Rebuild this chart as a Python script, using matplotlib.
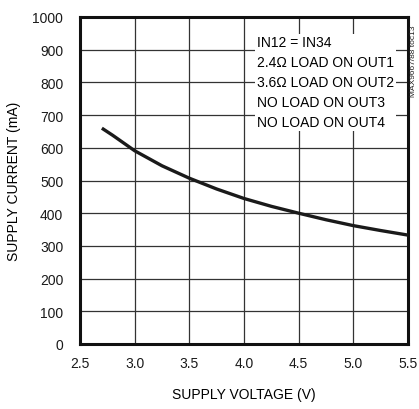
import matplotlib

matplotlib.use("Agg")
import matplotlib.pyplot as plt

# supply current vs supply voltage
VOLTAGE = [2.7, 2.8, 3.0, 3.25, 3.5, 3.75, 4.0, 4.25, 4.5, 4.75, 5.0, 5.25, 5.5]
CURRENT = [660, 638, 591, 545, 507, 474, 445, 421, 400, 380, 362, 347, 333]

X_TICKS = [2.5, 3.0, 3.5, 4.0, 4.5, 5.0, 5.5]
Y_TICKS = [0, 100, 200, 300, 400, 500, 600, 700, 800, 900, 1000]

NOTE_LINES = [
    "IN12 = IN34",
    "2.4\u03a9 LOAD ON OUT1",
    "3.6\u03a9 LOAD ON OUT2",
    "NO LOAD ON OUT3",
    "NO LOAD ON OUT4",
]

plt.rcParams.update(
    {
        "font.family": ["Liberation Sans Narrow", "Liberation Sans", "DejaVu Sans"],
        "font.size": 10,
    }
)

fig = plt.figure(figsize=(4.19, 4.10), dpi=100)
ax = fig.add_axes([80 / 419, 1 - 345 / 410, 328 / 419, 327 / 410])

ax.plot(VOLTAGE, CURRENT, color="#1a1a1a", linewidth=2.4, solid_capstyle="butt", zorder=3)

ax.set_xlim(2.5, 5.5)
ax.set_ylim(0, 1000)
ax.set_xticks(X_TICKS)
ax.set_xticklabels([f"{v:.1f}" for v in X_TICKS])
ax.set_yticks(Y_TICKS)
ax.tick_params(length=0, colors="#1a1a1a")
ax.tick_params(axis="y", pad=12)
ax.tick_params(axis="x", pad=9)
ax.grid(True, color="#333333", linewidth=0.9)
ax.set_axisbelow(True)
for spine in ax.spines.values():
    spine.set_linewidth(2.2)
    spine.set_color("#111111")

ax.set_xlabel("SUPPLY VOLTAGE (V)", labelpad=12)
ax.set_ylabel("SUPPLY CURRENT (mA)", labelpad=8)

ax.text(
    0.54,
    0.80,
    "\n".join(NOTE_LINES),
    transform=ax.transAxes,
    ha="left",
    va="center",
    linespacing=1.55,
    zorder=4,
    bbox={"boxstyle": "square,pad=0.12", "facecolor": "white", "edgecolor": "none"},
)

fig.text(0.986, 0.85, "MAX9667/88 toc13", rotation=90, ha="center", va="center",
         fontsize=6, color="#222222")

fig.savefig("out.png", dpi=100)
plt.close(fig)
